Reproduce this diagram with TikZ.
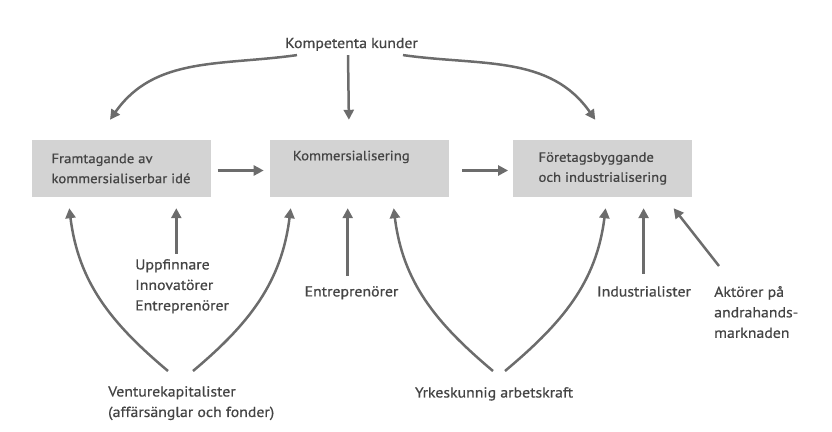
\documentclass[tikz,border=0pt]{standalone}
\usepackage{fontspec}
\setmainfont{PT Sans}[FakeStretch=1.09, BoldFont=PT Sans, BoldFeatures={FakeBold=0.6}]
\usetikzlibrary{arrows.meta,positioning}
\definecolor{boxgray}{HTML}{D3D3D3}
\definecolor{arrgray}{HTML}{6C6C6C}
\definecolor{txtgray}{HTML}{444444}

\begin{document}
\begin{tikzpicture}[
  x=1pt, y=1pt,
  node distance=59pt,
  font=\fontsize{14.5}{20.5}\selectfont\bfseries,
  text=txtgray,
  box/.style={fill=boxgray, minimum width=179pt, minimum height=57pt, align=left,
    font=\fontsize{13.5}{20}\selectfont\bfseries},
  lbl/.style={align=left, inner sep=2pt},
  arr/.style={-{Triangle[length=10pt,width=10pt]}, line width=2.5pt, draw=arrgray}
]
\useasboundingbox (0,0) rectangle (832,431);

% the three phases
\node[box] (idea) at (121,262.5) {Framtagande av\\kommersialiserbar idé};
\node[box, right=of idea, text width=133pt, inner xsep=23pt] (komm) {Kommersialisering\\\strut};
\node[box, right=64pt of komm] (indu) {Företagsbyggande\\och industrialisering};

\draw[arr] ([shift={(7pt,-2pt)}]idea.east) -- ([shift={(-6pt,-2pt)}]komm.west);
\draw[arr] ([shift={(13pt,-2pt)}]komm.east) -- ([shift={(-5pt,-2pt)}]indu.west);

% customers on top
\node[lbl, anchor=base] (kund) at (351.5,383) {Kompetenta kunder};
\draw[arr] ([shift={(-3.5pt,-2pt)}]kund.south) -- ([shift={(-10.5pt,20pt)}]komm.north);
\draw[arr] ([shift={(-54.5pt,-2pt)}]kund.south) to[out=188,in=55] ([shift={(-11pt,20pt)}]idea.north);
\draw[arr] ([shift={(51.5pt,-2pt)}]kund.south) to[out=-8,in=125] ([shift={(-7.5pt,20pt)}]indu.north);

% actors below
\coordinate (t1) at ([shift={(38pt,-11pt)}]idea.south west);
\coordinate (t2) at ([shift={(145pt,-11pt)}]idea.south west);
\coordinate (t3) at ([shift={(21pt,-11pt)}]komm.south west);
\coordinate (t4) at ([shift={(78pt,-11pt)}]komm.south west);
\coordinate (t5) at ([shift={(124pt,-11pt)}]komm.south west);
\coordinate (t6) at ([shift={(92.5pt,-11pt)}]indu.south west);
\coordinate (t7) at ([shift={(130.5pt,-11pt)}]indu.south west);
\coordinate (t8) at ([shift={(160.5pt,-11pt)}]indu.south west);

\node[lbl, anchor=north west] (uppf) at (133,174) {Uppfinnare\\Innovatörer\\Entreprenörer};
\node[lbl, anchor=north] (entr) at (351.5,147) {Entreprenörer};
\node[lbl, anchor=north] (indl) at (644,147) {Industrialister};
\node[lbl, anchor=north west] (aktr) at (712,147) {Aktörer på\\andrahands-\\marknaden};
\node[lbl, anchor=north west] (vcap) at (106,47) {Venturekapitalister\\(affärsänglar och fonder)};
\node[lbl, anchor=north] (yrke) at (494,46) {Yrkeskunnig arbetskraft};

\draw[arr] (uppf.north -| t2) ++(0,3pt) -- (t2);
\draw[arr] (entr.north -| t4) ++(0,8pt) -- (t4);
\draw[arr] (indl.north -| t7) ++(0,10pt) -- (t7);
\draw[arr] ([shift={(7pt,18pt)}]aktr.north west) -- (t8);

\draw[arr] ([shift={(62pt,13pt)}]vcap.north west) to[out=140,in=-83] (t1);
\draw[arr] ([shift={(87pt,13pt)}]vcap.north west) to[out=40,in=-97] (t3);
\draw[arr] ([shift={(-1pt,14pt)}]yrke.north) to[out=140,in=-83] (t5);
\draw[arr] ([shift={(11pt,14pt)}]yrke.north) to[out=40,in=-97] (t6);
\end{tikzpicture}
\end{document}
